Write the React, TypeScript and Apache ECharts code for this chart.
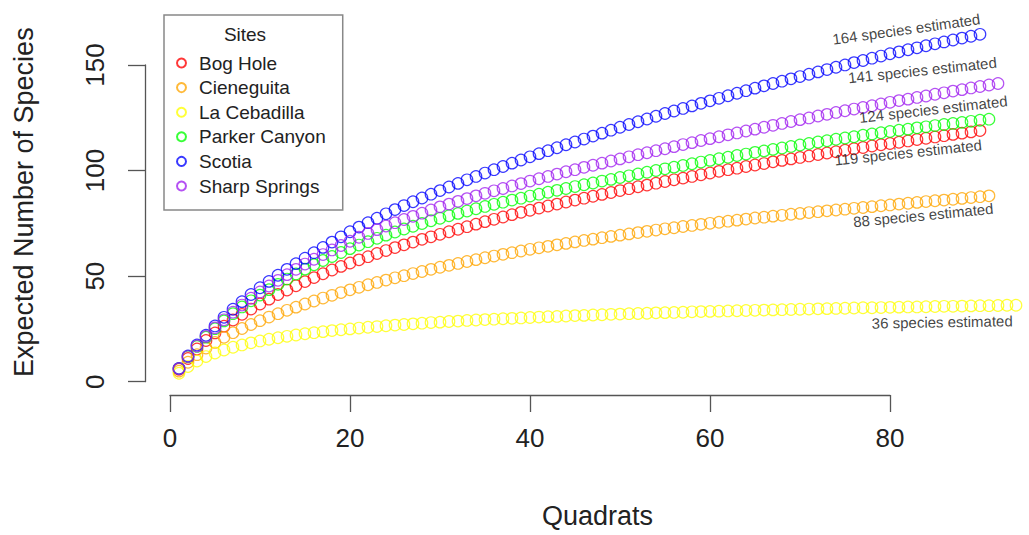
import React, { useEffect, useRef } from "react";
import * as echarts from "echarts";

const siteNames = ["Bog Hole", "Cieneguita", "La Cebadilla", "Parker Canyon", "Scotia", "Sharp Springs"];

const bogHole = [
  5.9, 11.0, 15.5, 19.5, 23.1, 26.3, 29.2, 31.9, 34.4, 36.8,
  39.1, 41.3, 43.4, 45.4, 47.4, 49.3, 51.1, 52.9, 54.6, 56.2,
  57.7, 59.2, 60.7, 62.1, 63.5, 64.8, 66.1, 67.4, 68.6, 69.8,
  71.0, 72.2, 73.4, 74.6, 75.8, 76.9, 78.0, 79.1, 80.2, 81.2,
  82.2, 83.2, 84.1, 85.1, 86.0, 86.9, 87.8, 88.7, 89.6, 90.5,
  91.4, 92.3, 93.1, 94.0, 94.8, 95.6, 96.4, 97.2, 98.0, 98.8,
  99.6, 100.4, 101.1, 101.9, 102.6, 103.3, 104.1, 104.8, 105.5, 106.2,
  106.9, 107.6, 108.3, 108.9, 109.6, 110.3, 110.9, 111.6, 112.2, 112.8,
  113.4, 114.0, 114.7, 115.3, 115.9, 116.5, 117.1, 117.7, 118.3, 118.9,
];

const cieneguita = [
  5.0, 9.2, 12.8, 15.9, 18.6, 21.0, 23.2, 25.2, 27.1, 28.9,
  30.6, 32.2, 33.8, 35.3, 36.8, 38.2, 39.6, 40.9, 42.2, 43.5,
  44.7, 45.9, 47.0, 48.1, 49.2, 50.2, 51.2, 52.2, 53.2, 54.2,
  55.1, 56.0, 56.9, 57.8, 58.7, 59.5, 60.3, 61.1, 61.9, 62.7,
  63.4, 64.1, 64.8, 65.5, 66.2, 66.9, 67.5, 68.2, 68.8, 69.4,
  70.0, 70.6, 71.2, 71.8, 72.4, 72.9, 73.5, 74.0, 74.5, 75.0,
  75.5, 76.0, 76.5, 77.0, 77.5, 77.9, 78.4, 78.8, 79.3, 79.7,
  80.1, 80.5, 80.9, 81.3, 81.7, 82.1, 82.5, 82.9, 83.3, 83.7,
  84.1, 84.5, 84.9, 85.3, 85.7, 86.0, 86.4, 86.8, 87.2, 87.6,
  88.0,
];

const laCebadilla = [
  4.0, 7.2, 9.8, 11.9, 13.6, 15.0, 16.3, 17.4, 18.4, 19.3,
  20.1, 20.8, 21.5, 22.1, 22.7, 23.2, 23.7, 24.2, 24.6, 25.0,
  25.4, 25.8, 26.1, 26.5, 26.8, 27.1, 27.4, 27.7, 28.0, 28.2,
  28.5, 28.7, 29.0, 29.2, 29.4, 29.6, 29.8, 30.0, 30.2, 30.4,
  30.6, 30.8, 30.9, 31.1, 31.3, 31.4, 31.6, 31.7, 31.9, 32.0,
  32.2, 32.3, 32.4, 32.6, 32.7, 32.8, 32.9, 33.1, 33.2, 33.3,
  33.4, 33.5, 33.6, 33.7, 33.8, 33.9, 34.0, 34.1, 34.2, 34.3,
  34.4, 34.5, 34.6, 34.7, 34.8, 34.9, 35.0, 35.0, 35.1, 35.2,
  35.3, 35.4, 35.4, 35.5, 35.6, 35.7, 35.7, 35.8, 35.9, 36.0,
  36.0, 36.1, 36.2, 36.2,
];

const parkerCanyon = [
  6.2, 11.8, 16.7, 21.1, 25.1, 28.8, 32.2, 35.4, 38.3, 41.0,
  43.6, 46.1, 48.6, 51.0, 53.3, 55.4, 57.4, 59.3, 61.2, 63.0,
  64.7, 66.3, 67.9, 69.4, 70.9, 72.3, 73.6, 74.9, 76.2, 77.4,
  78.6, 79.7, 80.8, 81.9, 83.0, 84.0, 85.0, 86.0, 86.9, 87.9,
  88.8, 89.7, 90.6, 91.5, 92.4, 93.3, 94.1, 95.0, 95.8, 96.7,
  97.5, 98.4, 99.2, 100.0, 100.8, 101.6, 102.4, 103.2, 104.0, 104.8,
  105.6, 106.3, 107.1, 107.8, 108.6, 109.3, 110.0, 110.7, 111.4, 112.1,
  112.8, 113.5, 114.1, 114.8, 115.4, 116.0, 116.7, 117.3, 117.9, 118.5,
  119.1, 119.6, 120.2, 120.7, 121.3, 121.8, 122.3, 122.8, 123.3, 123.8,
  124.3,
];

const scotia = [
  6.3, 12.2, 17.4, 22.0, 26.4, 30.5, 34.3, 37.9, 41.3, 44.5,
  47.5, 50.4, 53.2, 55.9, 58.5, 61.1, 63.6, 66.1, 68.6, 71.0,
  73.2, 75.3, 77.4, 79.5, 81.5, 83.4, 85.2, 87.0, 88.8, 90.5,
  92.2, 93.9, 95.6, 97.2, 98.8, 100.4, 101.9, 103.5, 105.0, 106.5,
  108.0, 109.4, 110.8, 112.2, 113.5, 114.9, 116.3, 117.7, 119.1, 120.5,
  121.8, 123.1, 124.4, 125.7, 127.0, 128.2, 129.4, 130.6, 131.8, 133.0,
  134.2, 135.4, 136.6, 137.8, 139.0, 140.1, 141.2, 142.3, 143.4, 144.5,
  145.6, 146.7, 147.8, 148.9, 150.0, 151.1, 152.1, 153.2, 154.2, 155.3,
  156.2, 157.2, 158.1, 159.1, 160.0, 160.9, 161.8, 162.7, 163.6, 164.5,
];

const sharpSprings = [
  6.2, 11.9, 16.9, 21.4, 25.5, 29.3, 32.9, 36.3, 39.5, 42.5,
  45.3, 48.0, 50.7, 53.2, 55.7, 58.0, 60.2, 62.4, 64.5, 66.5,
  68.4, 70.2, 72.0, 73.7, 75.3, 76.8, 78.3, 79.8, 81.3, 82.8,
  84.1, 85.4, 86.7, 88.0, 89.2, 90.4, 91.5, 92.7, 93.8, 95.0,
  96.1, 97.2, 98.3, 99.4, 100.4, 101.5, 102.5, 103.5, 104.5, 105.5,
  106.5, 107.5, 108.4, 109.4, 110.3, 111.3, 112.3, 113.2, 114.2, 115.1,
  116.0, 116.9, 117.8, 118.7, 119.6, 120.5, 121.4, 122.3, 123.2, 124.1,
  124.9, 125.8, 126.6, 127.5, 128.3, 129.1, 129.9, 130.7, 131.5, 132.3,
  133.1, 133.8, 134.6, 135.3, 136.1, 136.8, 137.6, 138.3, 139.1, 139.8,
  140.5, 141.2,
];

const siteValues = [bogHole, cieneguita, laCebadilla, parkerCanyon, scotia, sharpSprings];

// Text annotations (data coordinates)
const annotEstimates = [164, 141, 124, 119, 88, 36];
const annotX = [81.8, 83.6, 84.8, 82.0, 83.7, 85.8];
const annotY = [167.0, 147.6, 129.1, 108.6, 78.9, 28.3];
const annotAngle = [8, 6, 6.5, 6, 5.5, 1];

const xTickInterval = 20;
const yTickInterval = 50;

const siteColors = ["#FF0000", "#FFA500", "#FFFF00", "#00FF00", "#0000FF", "#A020F0"];
const FONT = "'Liberation Sans', Arial, Helvetica, sans-serif";

export default function App() {
  const ref = useRef<HTMLDivElement>(null);

  useEffect(() => {
    if (!ref.current) return;
    const chart = echarts.init(ref.current, null, { renderer: "svg" });

    const seriesList: any[] = siteNames.map((name, i) => ({
      name,
      type: "scatter",
      xAxisIndex: 0,
      yAxisIndex: 0,
      symbol: "circle",
      symbolSize: 11.5,
      clip: false,
      silent: true,
      itemStyle: {
        color: "rgba(255,255,255,0)",
        borderColor: siteColors[i],
        borderWidth: 1.2,
        opacity: 0.78,
      },
      data: siteValues[i].map((v, k) => [k + 1, v]),
    }));

    seriesList.push({
      name: "annotations",
      type: "scatter",
      xAxisIndex: 0,
      yAxisIndex: 0,
      symbolSize: 1,
      clip: false,
      silent: true,
      itemStyle: { color: "rgba(0,0,0,0)" },
      label: {
        show: true,
        position: "inside",
        fontSize: 15,
        color: "#111",
        fontFamily: FONT,
        formatter: (p: any) => `${annotEstimates[p.dataIndex]} species estimated`,
      },
      data: annotEstimates.map((_, i) => ({
        value: [annotX[i], annotY[i]],
        label: { rotate: annotAngle[i] },
      })),
    });

    const hidden = {
      axisLine: { show: false, onZero: false },
      axisTick: { show: false },
      axisLabel: { show: false },
      splitLine: { show: false },
    };
    const axisLineStyle = { color: "#555", width: 1.3 };

    chart.setOption({
      animation: false,
      backgroundColor: "#ffffff",
      textStyle: { fontFamily: FONT },
      grid: [
        { left: 170, top: 22.7, width: 855, height: 359 },
        { left: 170, top: 300, width: 720, height: 95 },
        { left: 145, top: 65, width: 10, height: 316.7 },
      ],
      xAxis: [
        {
          gridIndex: 0,
          type: "value",
          min: 0,
          max: 95,
          ...hidden,
          name: "Quadrats",
          nameLocation: "middle",
          nameGap: 121,
          nameTextStyle: { fontSize: 27, color: "#222", fontFamily: FONT },
        },
        {
          gridIndex: 1,
          type: "value",
          min: 0,
          max: 80,
          interval: xTickInterval,
          axisLine: { show: true, onZero: false, lineStyle: axisLineStyle },
          axisTick: { show: true, length: 17, lineStyle: axisLineStyle },
          axisLabel: { fontSize: 26, color: "#222", margin: 30, fontFamily: FONT },
          splitLine: { show: false },
        },
        { gridIndex: 2, type: "value", min: 0, max: 1, show: false, axisLine: { onZero: false } },
      ],
      yAxis: [
        {
          gridIndex: 0,
          type: "value",
          min: 0,
          max: 170,
          ...hidden,
          name: "Expected Number of Species",
          nameLocation: "middle",
          nameRotate: 90,
          nameGap: 133,
          nameTextStyle: { fontSize: 27, color: "#222", fontFamily: FONT },
        },
        { gridIndex: 1, type: "value", min: 0, max: 1, show: false, axisLine: { onZero: false } },
        {
          gridIndex: 2,
          type: "value",
          min: 0,
          max: 150,
          interval: yTickInterval,
          position: "left",
          axisLine: { show: true, onZero: false, lineStyle: axisLineStyle },
          axisTick: { show: true, length: 17, lineStyle: axisLineStyle },
          axisLabel: { fontSize: 26, color: "#222", margin: 37, rotate: 90, fontFamily: FONT },
          splitLine: { show: false },
        },
      ],
      legend: {
        orient: "vertical",
        left: 164,
        top: 15,
        padding: [38, 17, 14, 12],
        itemWidth: 25,
        itemHeight: 9,
        itemGap: 4.6,
        selectedMode: false,
        data: siteNames,
        textStyle: { fontSize: 19, color: "#222", lineHeight: 20, fontFamily: FONT },
        borderColor: "#888",
        borderWidth: 1.5,
        backgroundColor: "#ffffff",
      },
      graphic: [
        {
          type: "text",
          x: 245,
          y: 34,
          z: 100,
          style: {
            text: "Sites",
            fontSize: 19,
            fill: "#222",
            align: "center",
            verticalAlign: "middle",
            fontFamily: FONT,
          },
        },
      ],
      series: seriesList,
    });

    return () => chart.dispose();
  }, []);

  return (
    <div
      ref={ref}
      style={{ position: "fixed", left: 0, top: 0, width: 1029, height: 535, background: "#fff" }}
    />
  );
}
